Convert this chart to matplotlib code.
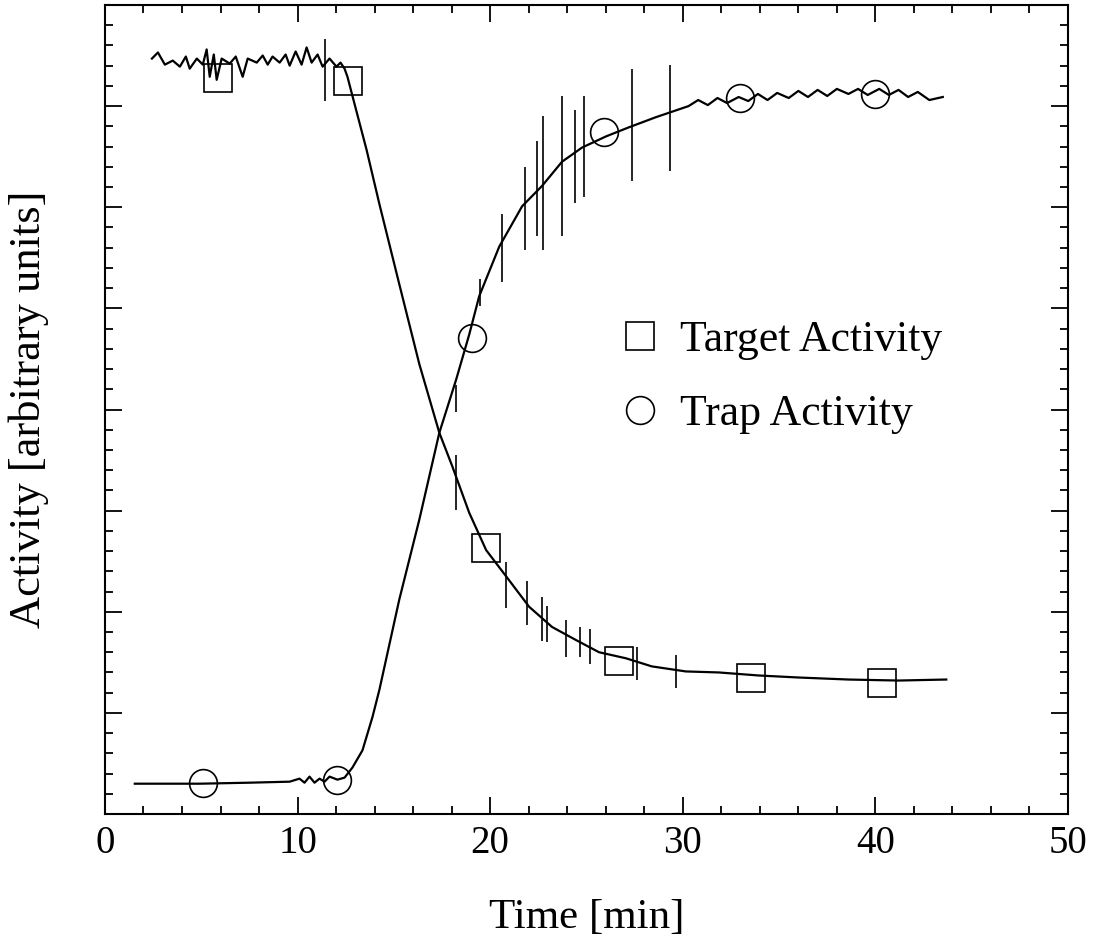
import matplotlib
matplotlib.use("Agg")
import matplotlib.pyplot as plt
from matplotlib.lines import Line2D
from matplotlib.ticker import MultipleLocator, NullFormatter

plt.rcParams['font.family'] = ['Liberation Serif', 'DejaVu Serif']

# ---- data ----
target_t = [2.44, 2.75, 3.11, 3.52, 3.89, 4.20, 4.40, 4.77, 5.08, 5.28, 5.44, 5.65, 5.80,
            6.06, 6.48, 6.79, 7.15, 7.41, 7.88, 8.19, 8.45, 8.70, 9.07, 9.38, 9.59, 9.90,
            10.21, 10.47, 10.73, 11.04, 11.30, 11.66, 12.02, 12.23, 12.44, 12.59,
            12.85, 13.58, 14.25, 15.28, 16.32, 17.36, 18.03, 18.91, 19.79, 20.83, 22.02,
            23.21, 24.46, 25.65, 27.05, 28.39, 30.16, 31.87, 33.94, 36.01, 38.60, 41.19, 43.68]
target_a = [7.47, 7.53, 7.41, 7.45, 7.39, 7.49, 7.37, 7.47, 7.41, 7.56, 7.29, 7.51, 7.26,
            7.47, 7.42, 7.49, 7.29, 7.47, 7.43, 7.50, 7.41, 7.49, 7.43, 7.51, 7.40, 7.54,
            7.41, 7.58, 7.43, 7.51, 7.39, 7.47, 7.39, 7.43, 7.37, 7.29,
            7.10, 6.57, 6.03, 5.24, 4.45, 3.77, 3.44, 2.98, 2.61, 2.35, 2.05,
            1.85, 1.72, 1.60, 1.54, 1.46, 1.41, 1.40, 1.37, 1.35, 1.33, 1.32, 1.33]

trap_t = [1.55, 4.92, 7.51, 9.59, 10.10, 10.36, 10.62, 10.88, 11.14, 11.40, 11.66, 12.07, 12.44,
          12.85, 13.37, 13.89, 14.25, 15.28, 16.32, 17.36, 18.24, 18.91, 19.43, 20.47, 21.66,
          22.69, 23.73, 24.77, 26.01, 27.20, 28.60,
          30.3, 30.8, 31.3, 31.8, 32.3, 32.9, 33.4, 33.9, 34.4, 34.9, 35.5, 36.0, 36.5, 37.0,
          37.5, 38.0, 38.6, 39.1, 39.6, 40.2, 40.7, 41.2, 41.7, 42.2, 42.8, 43.5]
trap_a = [0.30, 0.30, 0.31, 0.32, 0.35, 0.31, 0.37, 0.31, 0.35, 0.32, 0.37, 0.34, 0.36,
          0.46, 0.63, 0.96, 1.23, 2.12, 2.91, 3.77, 4.30, 4.74, 5.12, 5.61, 6.01,
          6.21, 6.45, 6.59, 6.70, 6.79, 6.89,
          7.00, 7.06, 7.01, 7.08, 7.03, 7.09, 7.05, 7.12, 7.06, 7.13, 7.08, 7.15, 7.09, 7.16,
          7.10, 7.17, 7.12, 7.17, 7.11, 7.17, 7.11, 7.16, 7.09, 7.14, 7.06, 7.09]

# vertical spikes in the traces: time, low, high
trap_spike_t = [18.24, 19.48, 20.62, 21.81, 22.44, 22.75, 23.73, 24.40, 24.87, 27.36, 29.33]
trap_spike_lo = [3.98, 5.02, 5.26, 5.58, 5.72, 5.58, 5.72, 6.04, 6.10, 6.26, 6.36]
trap_spike_hi = [4.24, 5.29, 5.93, 6.40, 6.65, 6.90, 7.10, 6.96, 7.10, 7.37, 7.41]

target_spike_t = [11.45, 18.24, 20.83, 21.92, 22.69, 22.95, 23.94, 24.66, 25.18, 27.62, 29.64]
target_spike_lo = [7.05, 3.01, 2.04, 1.87, 1.71, 1.70, 1.55, 1.55, 1.48, 1.33, 1.25]
target_spike_hi = [7.66, 3.55, 2.49, 2.30, 2.15, 2.06, 1.92, 1.85, 1.83, 1.65, 1.57]

# marker points
target_mark_t = [5.85, 12.62, 19.77, 26.71, 33.52, 40.36]
target_mark_a = [7.28, 7.25, 2.63, 1.51, 1.35, 1.30]
trap_mark_t = [5.08, 12.07, 19.07, 25.91, 32.95, 40.00]
trap_mark_a = [0.31, 0.34, 4.71, 6.74, 7.08, 7.12]

labels = ["Target Activity", "Trap Activity"]

# ---- figure ----
fig = plt.figure(figsize=(10.99, 9.36), dpi=100)
ax = fig.add_axes([0.0955, 0.1303, 0.8763, 0.8644])

ax.plot(target_t, target_a, color='black', lw=1.6)
ax.plot(trap_t, trap_a, color='black', lw=1.6)
ax.vlines(trap_spike_t, trap_spike_lo, trap_spike_hi, color='black', lw=1.2)
ax.vlines(target_spike_t, target_spike_lo, target_spike_hi, color='black', lw=1.2)

ax.plot(target_mark_t, target_mark_a, linestyle='none', marker='s', ms=20,
        mfc='none', mec='black', mew=1.2)
ax.plot(trap_mark_t, trap_mark_a, linestyle='none', marker='o', ms=20,
        mfc='none', mec='black', mew=1.2)

ax.set_xlim(0, 50)
ax.set_ylim(0, 8)
ax.xaxis.set_major_locator(MultipleLocator(10))
ax.xaxis.set_minor_locator(MultipleLocator(2))
ax.yaxis.set_major_locator(MultipleLocator(1))
ax.yaxis.set_minor_locator(MultipleLocator(0.2))
ax.yaxis.set_major_formatter(NullFormatter())

ax.tick_params(which='both', direction='in', top=True, right=True, width=1.3)
ax.tick_params(which='major', length=12, labelsize=28, pad=8)
ax.tick_params(which='minor', length=6)
for s in ax.spines.values():
    s.set_linewidth(1.5)

ax.set_xlabel("Time [min]", fontsize=31, labelpad=26)
ax.set_ylabel("Activity [arbitrary units]", fontsize=32, labelpad=32)

handles = [Line2D([], [], linestyle='none', marker='s', ms=20, mfc='none', mec='black', mew=1.2),
           Line2D([], [], linestyle='none', marker='o', ms=20, mfc='none', mec='black', mew=1.2)]
ax.legend(handles, labels, loc='center left', bbox_to_anchor=(0.533, 0.540),
          frameon=False, fontsize=31.5, handlelength=1.0, handletextpad=0.4,
          labelspacing=0.78, borderpad=0, borderaxespad=0)

fig.savefig("out.png", dpi=100)
